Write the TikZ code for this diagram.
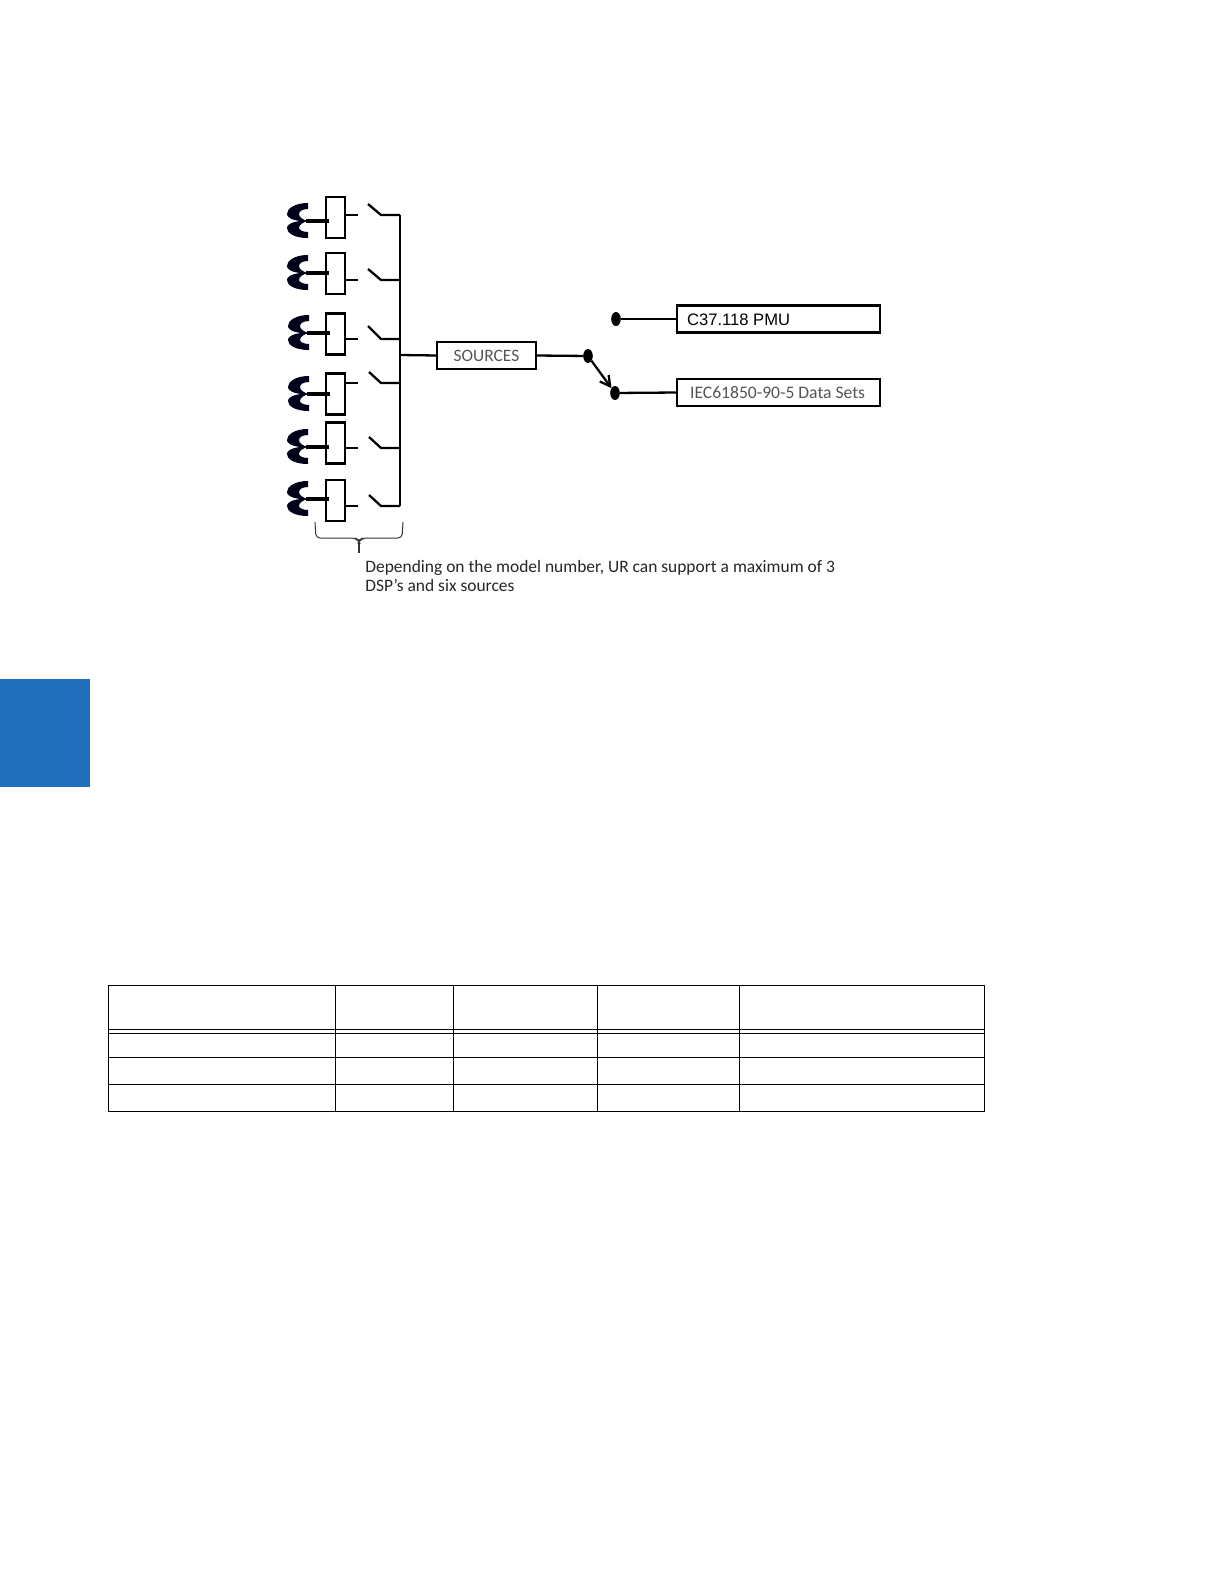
\documentclass[tikz,border=0pt]{standalone}
\usepackage{xcolor}
\usepackage{fontspec}
\setmainfont{Carlito}
\newfontfamily\pmufont{Liberation Sans}
\definecolor{urblue}{RGB}{31,111,186}
\definecolor{urgrey}{RGB}{85,85,85}
\usetikzlibrary{arrows.meta, shapes.geometric}
\tikzset{
  wire/.style={line width=1.15pt, black},
  ctbox/.style={draw, line width=1.1pt, minimum width=9.5pt, minimum height=20.5pt, inner sep=0pt, outer sep=0pt},
  outbox/.style={draw, line width=1.15pt, inner sep=0pt, outer sep=0pt, minimum height=13.5pt},
  contact/.style={ellipse, fill=black, inner sep=0pt, outer sep=0pt, minimum width=4.8pt, minimum height=7pt},
  grid/.style={line width=0.45pt, black},
  ctcoil/.pic={
    \fill[black!90!blue] (10,-18) .. controls (-4,-18) and (-11,-12) .. (-11,-7) .. controls (-11,-2) and (0,1) .. (10,0)
         .. controls (5,-1) and (1,-4) .. (1,-7) .. controls (1,-10) and (5,-12) .. (10,-12) -- cycle;
    \fill[black!90!blue] (10,17) .. controls (-4,17) and (-11,12) .. (-11,7) .. controls (-11,2) and (0,-1) .. (10,0)
         .. controls (5,1) and (1,4) .. (1,7) .. controls (1,9) and (5,11) .. (10,11) -- cycle;
    \draw[line width=2.1pt] (8,0) -- (31,0);
  }
}
\begin{document}
\begin{tikzpicture}[x=0.5pt, y=-0.5pt]
  \useasboundingbox (0,0) rectangle (1224,1584);

  % Blue side tab
  \fill[urblue] (0,679) rectangle (90,787);

  % Row 1
  \pic at (298,221) {ctcoil};
  \node[ctbox] (box1) at (335.5,217.5) {};
  \coordinate (stub1) at (358,215);
  \coordinate (sw1) at (368,204);
  \coordinate (tap1) at (381,215);
  \coordinate (bus1) at (400,215);
  \draw[wire] (box1.east |- stub1) -- (stub1);
  \draw[wire] (sw1) -- (tap1) -- (bus1);

  % Row 2
  \pic at (298,273) {ctcoil};
  \node[ctbox] (box2) at (335.5,273.5) {};
  \coordinate (stub2) at (358,280);
  \coordinate (sw2) at (368,269);
  \coordinate (tap2) at (381,280);
  \coordinate (bus2) at (400,280);
  \draw[wire] (box2.east |- stub2) -- (stub2);
  \draw[wire] (sw2) -- (tap2) -- (bus2);

  % Row 3
  \pic at (299,333) {ctcoil};
  \node[ctbox] (box3) at (335.5,334) {};
  \coordinate (stub3) at (358,339);
  \coordinate (sw3) at (368,326);
  \coordinate (tap3) at (381,339);
  \coordinate (bus3) at (400,339);
  \draw[wire] (box3.east |- stub3) -- (stub3);
  \draw[wire] (sw3) -- (tap3) -- (bus3);

  % Row 4
  \pic at (299,394) {ctcoil};
  \node[ctbox] (box4) at (335.5,394) {};
  \coordinate (stub4) at (358,383);
  \coordinate (sw4) at (369,372);
  \coordinate (tap4) at (381,383);
  \coordinate (bus4) at (400,383);
  \draw[wire] (box4.east |- stub4) -- (stub4);
  \draw[wire] (sw4) -- (tap4) -- (bus4);

  % Row 5
  \pic at (298,447) {ctcoil};
  \node[ctbox] (box5) at (335.5,443) {};
  \coordinate (stub5) at (358,448);
  \coordinate (sw5) at (369,437);
  \coordinate (tap5) at (381,448);
  \coordinate (bus5) at (400,448);
  \draw[wire] (box5.east |- stub5) -- (stub5);
  \draw[wire] (sw5) -- (tap5) -- (bus5);

  % Row 6
  \pic at (298,499) {ctcoil};
  \node[ctbox] (box6) at (335.5,500.5) {};
  \coordinate (stub6) at (358,506);
  \coordinate (sw6) at (369,495);
  \coordinate (tap6) at (381,506);
  \coordinate (bus6) at (400,506);
  \draw[wire] (box6.east |- stub6) -- (stub6);
  \draw[wire] (sw6) -- (tap6) -- (bus6);

  % Common bus
  \draw[wire, line width=1.3pt] (bus1) -- (bus6);

  % Sources and output switch
  \coordinate (busout) at (400,355);
  \node[outbox, minimum width=49.5pt, font=\fontsize{8.7}{10}\selectfont, text=urgrey] (sources) at (486.5,355.5) {SOURCES};
  \draw[wire] (busout) -- (sources.west);
  \node[contact] (swin) at (588,356) {};
  \node[contact] (swpmu) at (616,319) {};
  \node[contact] (swiec) at (615,393) {};
  \draw[wire] (sources.east) -- (swin);
  \draw[wire, -{Straight Barb[length=5pt, width=5.5pt]}] (swin) -- (swiec);

  % Output blocks
  \node[outbox, minimum width=101.5pt, anchor=west] (pmu) at (677,319) {};
  \node[font=\pmufont\fontsize{8.3}{10}\selectfont, anchor=west] (pmutext) at (680,319.5) {C37.118 PMU};
  \node[outbox, minimum width=101.5pt, anchor=west] (iec) at (677,392.5) {};
  \node[font=\fontsize{8.8}{10}\selectfont, text=urgrey, anchor=west] (iectext) at (683,392.5) {IEC61850-90-5 Data Sets};
  \draw[wire] (swpmu) -- (pmu.west);
  \draw[wire] (swiec) -- (iec.west);

  % Brace and note
  \draw[line width=0.5pt, black!80, rounded corners=2pt] (315,522) -- (316,538) -- (356,538) -- (359,542) -- (362,538) -- (402,538) -- (403,522);
  \draw[line width=0.6pt, black!80] (359,542) -- (359,553);
  \node[font=\fontsize{8.72}{9.9}\selectfont, text=black!85, align=left, anchor=north west, inner sep=0pt] (note) at (365,559.5)
       {Depending on the model number, UR can support a maximum of 3\\DSP's and six sources};

  % Empty table
  \draw[grid] (108,985) rectangle (984.5,1111);
  \draw[grid] (108,1029) -- (984.5,1029);
  \draw[grid] (108,1033) -- (984.5,1033);
  \draw[grid] (108,1057) -- (984.5,1057);
  \draw[grid] (108,1084) -- (984.5,1084);
  \draw[grid] (335.5,985) -- (335.5,1111);
  \draw[grid] (453.5,985) -- (453.5,1111);
  \draw[grid] (597,985) -- (597,1111);
  \draw[grid] (739,985) -- (739,1111);
\end{tikzpicture}
\end{document}
